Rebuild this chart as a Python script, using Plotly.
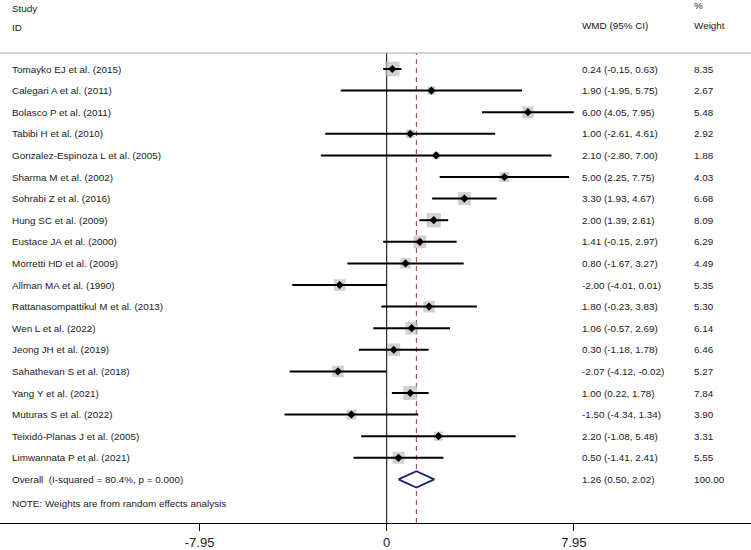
import math
import plotly.graph_objects as go

# ---------------- data ----------------
studies = [
    "Tomayko EJ et al. (2015)",
    "Calegari A et al. (2011)",
    "Bolasco P et al. (2011)",
    "Tabibi H et al. (2010)",
    "Gonzalez-Espinoza L et al. (2005)",
    "Sharma M et al. (2002)",
    "Sohrabi Z et al. (2016)",
    "Hung SC et al. (2009)",
    "Eustace JA et al. (2000)",
    "Morretti HD et al. (2009)",
    "Allman MA et al. (1990)",
    "Rattanasompattikul M et al. (2013)",
    "Wen L et al. (2022)",
    "Jeong JH et al. (2019)",
    "Sahathevan S et al. (2018)",
    "Yang Y et al. (2021)",
    "Muturas S et al. (2022)",
    "Teixidó-Planas J et al. (2005)",
    "Limwannata P et al. (2021)",
]
wmd = [0.24, 1.90, 6.00, 1.00, 2.10, 5.00, 3.30, 2.00, 1.41, 0.80,
       -2.00, 1.80, 1.06, 0.30, -2.07, 1.00, -1.50, 2.20, 0.50]
ci_low = [-0.15, -1.95, 4.05, -2.61, -2.80, 2.25, 1.93, 1.39, -0.15, -1.67,
          -4.01, -0.23, -0.57, -1.18, -4.12, 0.22, -4.34, -1.08, -1.41]
ci_high = [0.63, 5.75, 7.95, 4.61, 7.00, 7.75, 4.67, 2.61, 2.97, 3.27,
           0.01, 3.83, 2.69, 1.78, -0.02, 1.78, 1.34, 5.48, 2.41]
weights = [8.35, 2.67, 5.48, 2.92, 1.88, 4.03, 6.68, 8.09, 6.29, 4.49,
           5.35, 5.30, 6.14, 6.46, 5.27, 7.84, 3.90, 3.31, 5.55]

overall_label = "Overall\u00a0 (I-squared = 80.4%, p = 0.000)"
overall_est = 1.26
overall_low = 0.50
overall_high = 2.02
overall_weight = 100.00

axis_ticks = [-7.95, 0, 7.95]
axis_ticktext = ["-7.95", "0", "7.95"]

# ---------------- styling ----------------
FONT = "Liberation Sans, Arial, sans-serif"
TXT = "#1a1a1a"
FS = 9.9
W, H = 751, 550
M_T, M_B = 53, 27
PLOT_H = H - M_T - M_B
ROW_PX = 21.6
Y_TOP = -0.741
Y_BOT = Y_TOP + PLOT_H / ROW_PX
PX_PER_UNIT = 23.54
ZERO_PX = 386.7
X_LEFT = -ZERO_PX / PX_PER_UNIT
X_RIGHT = (W - ZERO_PX) / PX_PER_UNIT

n = len(studies)
rows = list(range(n))
overall_row = n

fig = go.Figure()

# weight boxes (area proportional to weight)
fig.add_trace(go.Scatter(
    x=wmd, y=rows, mode="markers",
    marker=dict(symbol="square", color="#bdbdbd",
                size=[5.0 * math.sqrt(w) for w in weights],
                line=dict(width=0)),
    hoverinfo="skip", showlegend=False))

# confidence intervals
cx, cy = [], []
for i in rows:
    cx += [ci_low[i], ci_high[i], None]
    cy += [i, i, None]
fig.add_trace(go.Scatter(
    x=cx, y=cy, mode="lines", line=dict(color="black", width=2),
    hoverinfo="skip", showlegend=False))

# point estimates
fig.add_trace(go.Scatter(
    x=wmd, y=rows, mode="markers",
    marker=dict(symbol="diamond", color="black", size=6.3, line=dict(width=0)),
    hoverinfo="skip", showlegend=False))

# overall diamond
dh = 0.38
fig.add_trace(go.Scatter(
    x=[overall_low, overall_est, overall_high, overall_est, overall_low],
    y=[overall_row, overall_row - dh, overall_row, overall_row + dh, overall_row],
    mode="lines", line=dict(color="#1c2170", width=1.8),
    fill="toself", fillcolor="white",
    hoverinfo="skip", showlegend=False))

# reference lines
fig.add_shape(type="line", xref="x", yref="paper", x0=0, x1=0, y0=0, y1=1,
              line=dict(color="black", width=1), layer="below")
fig.add_shape(type="line", xref="x", yref="paper", x0=overall_est, x1=overall_est,
              y0=0, y1=1, line=dict(color="#9b3b3b", width=1, dash="5px,4px"),
              layer="below")
fig.add_shape(type="line", xref="paper", yref="paper", x0=0, x1=1, y0=1, y1=1,
              line=dict(color="#a8a8a8", width=1))

# text columns
X_STUDY = 10 / W
X_WMD = 580 / W
X_WT = 692 / W


def ann(text, x, y, yref="y"):
    fig.add_annotation(text=text, x=x, y=y, xref="paper", yref=yref,
                       xanchor="left", yanchor="middle", showarrow=False,
                       font=dict(family=FONT, size=FS, color=TXT))


for i in rows:
    ann(studies[i], X_STUDY, i)
    ann(f"{wmd[i]:.2f} ({ci_low[i]:.2f}, {ci_high[i]:.2f})", X_WMD, i)
    ann(f"{weights[i]:.2f}", X_WT, i)

ann(overall_label, X_STUDY, overall_row)
ann(f"{overall_est:.2f} ({overall_low:.2f}, {overall_high:.2f})", X_WMD, overall_row)
ann(f"{overall_weight:.2f}", X_WT, overall_row)


def py(px):
    return (H - M_B - px) / PLOT_H


ann("NOTE: Weights are from random effects analysis", X_STUDY, py(503), "paper")
ann("Study", X_STUDY, py(8), "paper")
ann("ID", X_STUDY, py(27), "paper")
ann("%", X_WT, py(6), "paper")
ann("WMD (95% CI)", X_WMD, py(26), "paper")
ann("Weight", X_WT, py(26), "paper")

fig.update_layout(
    width=W, height=H,
    margin=dict(l=0, r=0, t=M_T, b=M_B),
    paper_bgcolor="white", plot_bgcolor="white",
    showlegend=False,
    xaxis=dict(range=[X_LEFT, X_RIGHT], showgrid=False, zeroline=False,
               showline=True, linecolor="black", linewidth=1,
               ticks="outside", ticklen=7, tickcolor="black", tickwidth=1,
               tickvals=axis_ticks, ticktext=axis_ticktext,
               tickfont=dict(family=FONT, size=13, color="#222222"),
               fixedrange=True),
    yaxis=dict(range=[Y_BOT, Y_TOP], visible=False, showgrid=False,
               zeroline=False, fixedrange=True),
)

fig.write_html(
    "out.html",
    config={"displayModeBar": False},
    post_script="document.body.style.margin='0';document.body.style.overflow='hidden';",
)
